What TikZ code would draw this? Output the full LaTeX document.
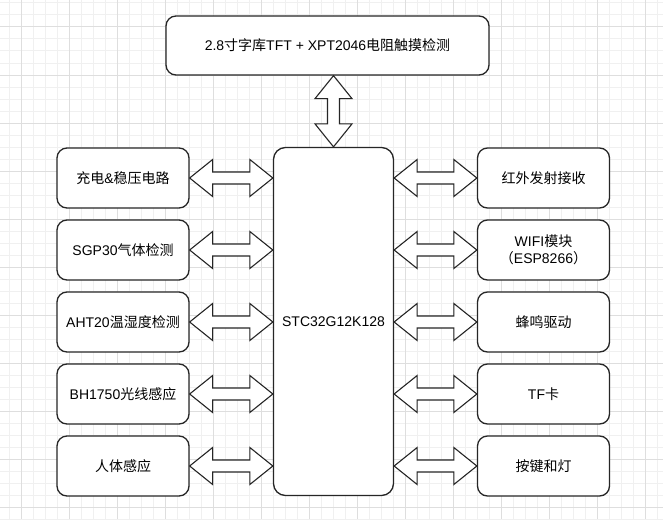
\documentclass[tikz,border=0pt]{standalone}
\usepackage{fontspec}
\setmainfont{Noto Sans CJK SC}
\newfontfamily\lat{Liberation Sans}
\usetikzlibrary{calc}

% hollow two-headed arrow from #1 to #2
\newcommand{\dblarrow}[2]{%
  \draw[dblarrow] let \p1=(#1), \p2=(#2),
    \n1={veclen(\x2-\x1,\y2-\y1)}, \n2={atan2(\y2-\y1,\x2-\x1)} in
    [shift={(\p1)}, rotate=\n2]
    (0pt,0pt) -- (23pt,18.5pt) -- (23pt,6pt) -- ({\n1-23pt},6pt) -- ({\n1-23pt},18.5pt)
    -- ({\n1},0pt) -- ({\n1-23pt},-18.5pt) -- ({\n1-23pt},-6pt) -- (23pt,-6pt)
    -- (23pt,-18.5pt) -- cycle;}

\begin{document}
\begin{tikzpicture}[x=1pt, y=-1pt,
  box/.style={rectangle, rounded corners=10pt, draw=black!85, fill=white, line width=1.3pt,
    minimum width=132pt, minimum height=60pt, align=center,
    font=\fontsize{14}{17.5}\selectfont},
  dblarrow/.style={draw=black!85, fill=white, line width=1.1pt, line join=miter},
  minorgrid/.style={black!6, line width=1pt},
  majorgrid/.style={black!13, line width=1pt}]

\useasboundingbox[fill=white] (0,0) rectangle (663,519);

%Grid
\foreach \x in {9,21,...,657} \draw[minorgrid] (\x,0) -- (\x,519);
\foreach \y in {3,15,...,519} \draw[minorgrid] (0,\y) -- (663,\y);
\foreach \x in {21,69,...,645} \draw[majorgrid] (\x,0) -- (\x,519);
\foreach \y in {27,75,...,507} \draw[majorgrid] (0,\y) -- (663,\y);

%MCU
\node[box, rounded corners=12pt, minimum width=120pt, minimum height=348pt] (mcu) at (333.5,321.5) {\lat STC32G12K128};

%Display
\node[box, minimum width=323pt, minimum height=59pt] (lcd) at (327.5,45.5) {{\lat 2.8}寸字库{\lat TFT + XPT2046}电阻触摸检测};

%Left side
\node[box] (power) at (123,178) {充电{\lat\&}稳压电路};
\node[box] (sgp) at (123,250) {{\lat SGP30}气体检测};
\node[box] (aht) at (123,322) {{\lat AHT20}温湿度检测};
\node[box] (bh) at (123,394) {{\lat BH1750}光线感应};
\node[box] (body) at (123,466) {人体感应};

%Right side
\node[box] (ir) at (543.5,178) {红外发射接收};
\node[box] (wifi) at (543.5,250) {{\lat WIFI}模块\\（{\lat ESP8266}）};
\node[box] (buzzer) at (543.5,322) {蜂鸣驱动};
\node[box] (tf) at (543.5,394) {{\lat TF}卡};
\node[box] (key) at (543.5,466) {按键和灯};

%Links
\dblarrow{mcu.north |- lcd.south}{mcu.north}
\dblarrow{power.east}{mcu.west |- power.east}
\dblarrow{sgp.east}{mcu.west |- sgp.east}
\dblarrow{aht.east}{mcu.west |- aht.east}
\dblarrow{bh.east}{mcu.west |- bh.east}
\dblarrow{body.east}{mcu.west |- body.east}
\dblarrow{mcu.east |- ir.west}{ir.west}
\dblarrow{mcu.east |- wifi.west}{wifi.west}
\dblarrow{mcu.east |- buzzer.west}{buzzer.west}
\dblarrow{mcu.east |- tf.west}{tf.west}
\dblarrow{mcu.east |- key.west}{key.west}

\end{tikzpicture}
\end{document}
